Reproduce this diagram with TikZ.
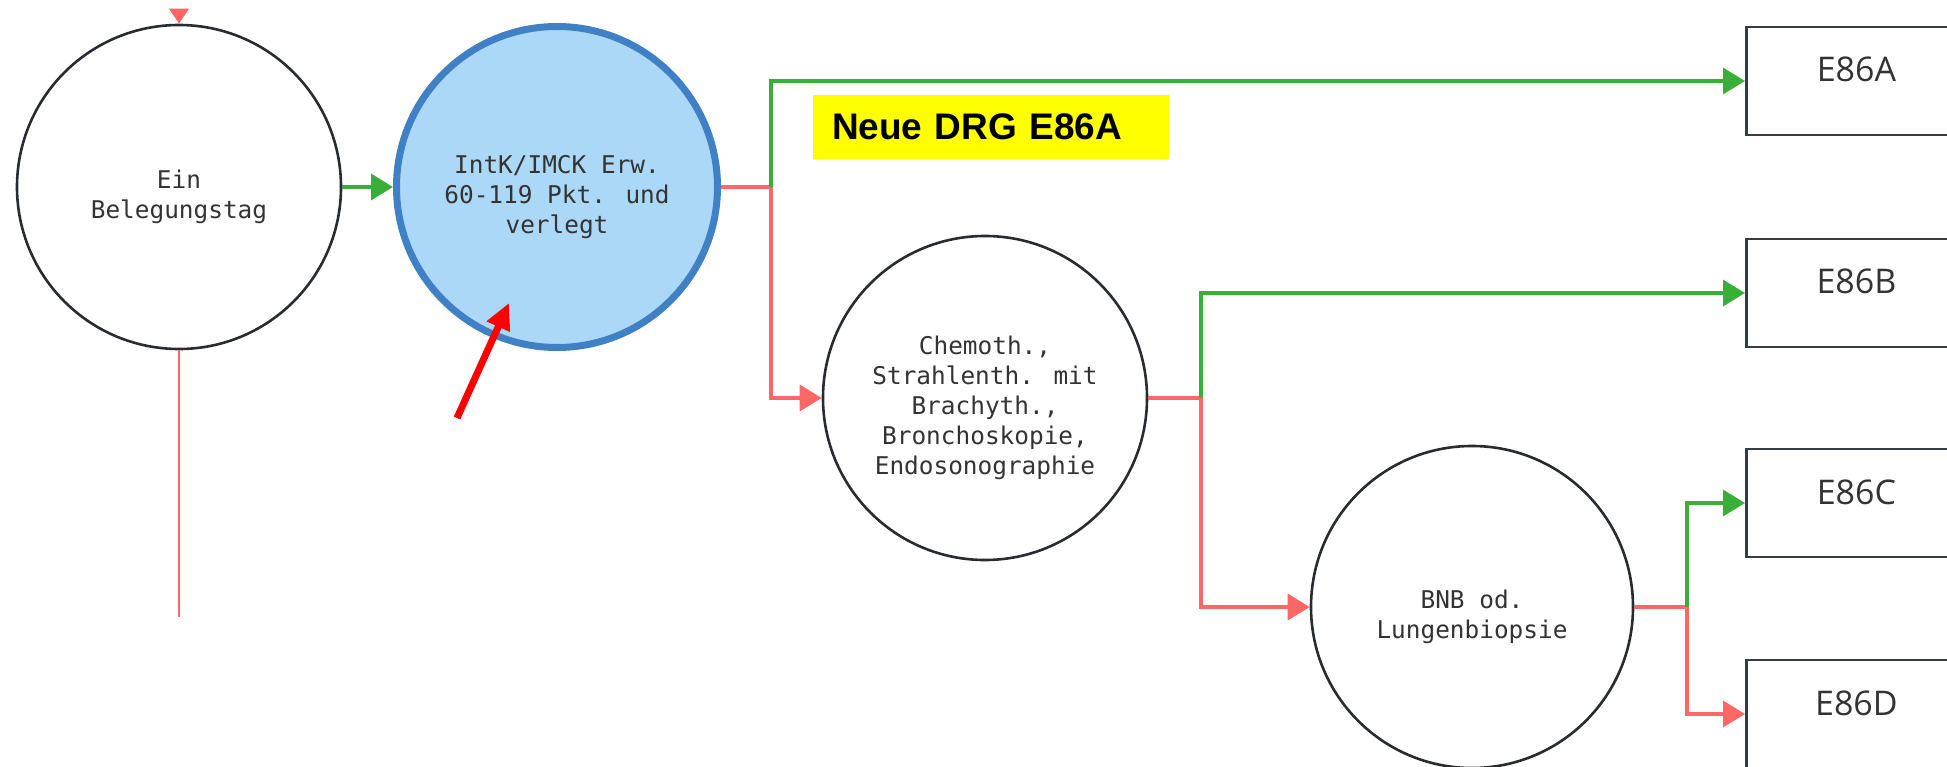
\documentclass[tikz,border=0pt]{standalone}
\usepackage{fontspec}
\usetikzlibrary{arrows.meta,positioning,calc}
\newfontfamily\monof{DejaVu Sans Mono}
\newfontfamily\boxf{Open Sans}
\newfontfamily\labf{Liberation Sans}
\newcommand\firsttop{\rule{0pt}{38pt}}
\definecolor{cgreen}{RGB}{56,176,56}
\definecolor{cred}{RGB}{255,102,102}
\definecolor{cpointer}{RGB}{255,0,0}
\definecolor{cblue}{RGB}{64,128,196}
\definecolor{cfill}{RGB}{171,216,247}
\definecolor{cdark}{RGB}{40,44,48}
\definecolor{ctext}{RGB}{51,51,51}
\definecolor{cbox}{RGB}{50,60,66}
\definecolor{cyellow}{RGB}{255,255,0}
\tikzset{
  circnode/.style={circle, draw=cdark, line width=2.6pt, fill=white, align=center,
    text=ctext, font=\monof\fontsize{24.4pt}{30pt}\selectfont, inner sep=0pt},
  selnode/.style={circnode, draw=cblue, fill=cfill, line width=7pt},
  drgbox/.style={rectangle, draw=cbox, line width=2.8pt, fill=white,
    minimum width=220pt, minimum height=108pt, anchor=west,
    text=ctext, font=\boxf\fontsize{34pt}{40pt}\selectfont,
    text height=24pt, text depth=22pt},
  yesline/.style={draw=cgreen, line width=3.6pt},
  noline/.style={draw=cred, line width=3.6pt},
  tipg/.style={-{Triangle[length=22pt,width=26pt]}},
  tipr/.style={-{Triangle[length=22pt,width=26pt]}},
}
\begin{document}
\begin{tikzpicture}[x=1pt,y=-1pt]
\useasboundingbox (0,0) rectangle (1947,767);
\clip (0,0) rectangle (1947,767);

% nodes
\node[circnode, minimum size=324pt] (c1) at (179,187) {\firsttop Ein\\Belegungstag};
\node[selnode, minimum size=321pt] (c2) at (557,187) {\firsttop IntK/IMCK Erw.\\60-119 Pkt. und\\verlegt};
\node[circnode, minimum size=324pt] (c3) at (985,398) {\firsttop Chemoth.,\\Strahlenth. mit\\Brachyth.,\\Bronchoskopie,\\Endosonographie};
\node[circnode, minimum size=322pt] (c4) at (1472,607) {\firsttop BNB od.\\Lungenbiopsie};

\node[drgbox] (A) at (1745,81) {E86A};
\node[drgbox] (B) at (1745,293) {E86B};
\node[drgbox] (C) at (1745,503) {E86C};
\node[drgbox] (D) at (1745,714) {E86D};

\node[rectangle, fill=cyellow, minimum width=356pt, minimum height=64pt,
      inner xsep=19pt, text width=318pt, align=left,
      font=\labf\bfseries\fontsize{37pt}{40pt}\selectfont] (drg) at (991,127) {Neue DRG E86A};

% junction coordinates
\coordinate (j1) at (771,187);
\coordinate (j2) at (1201,398);
\coordinate (j3) at (1687,607);
\coordinate (topin) at (179,9);
\coordinate (bottomend) at (179,617);
\coordinate (ptail) at (457,418);
\coordinate (phead) at (509,303);

% incoming from top
\draw[noline, -{Triangle[length=15pt,width=19pt]}] (topin) -- (c1.north);
% outgoing to bottom
\draw[draw=cred, line width=2.4pt] (c1.south) -- (bottomend);

% c1 -> c2
\draw[yesline, tipg] (c1.east) -- (c2.west);

% c2 branch
\draw[noline] (c2.east) -- (j1);
\draw[yesline, tipg] (j1) |- (A.west);
\draw[noline, tipr] (j1) |- (c3.west);

% c3 branch
\draw[noline] (c3.east) -- (j2);
\draw[yesline, tipg] (j2) |- (B.west);
\draw[noline, tipr] (j2) |- (c4.west);

% c4 branch
\draw[noline] (c4.east) -- (j3);
\draw[yesline, tipg] (j3) |- (C.west);
\draw[noline, tipr] (j3) |- (D.west);

% pointer arrow
\draw[draw=cpointer, line width=7pt, -{Triangle[length=26pt,width=24pt]}] (ptail) -- (phead);
\end{tikzpicture}
\end{document}
